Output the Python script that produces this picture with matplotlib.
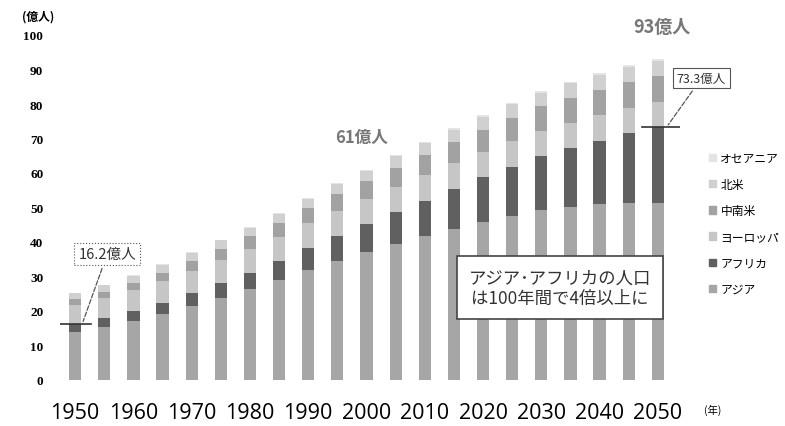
import numpy as np
import matplotlib.pyplot as plt
from matplotlib.patches import Patch

plt.rcParams['font.family'] = ['Noto Sans CJK JP', 'DejaVu Sans']

years = np.arange(1950, 2051, 5)
# population in 億人 (UN estimates)
asia = [14.0, 15.4, 17.1, 19.1, 21.4, 23.9, 26.3, 28.9, 31.9, 34.6, 37.0,
        39.4, 41.7, 43.9, 45.9, 47.6, 49.2, 50.2, 50.9, 51.3, 51.4]
africa = [2.2, 2.5, 2.9, 3.2, 3.7, 4.2, 4.8, 5.5, 6.3, 7.2, 8.1,
          9.2, 10.2, 11.5, 12.8, 14.2, 15.6, 17.0, 18.5, 20.2, 21.9]
europe = [5.5, 5.8, 6.0, 6.3, 6.6, 6.8, 6.9, 7.1, 7.2, 7.3, 7.3,
          7.3, 7.4, 7.4, 7.4, 7.4, 7.4, 7.3, 7.3, 7.2, 7.2]
latam = [1.7, 1.9, 2.2, 2.5, 2.9, 3.2, 3.6, 4.0, 4.4, 4.8, 5.2,
         5.6, 5.9, 6.2, 6.5, 6.8, 7.1, 7.3, 7.5, 7.6, 7.5]
n_america = [1.7, 1.9, 2.0, 2.2, 2.3, 2.4, 2.5, 2.7, 2.8, 3.0, 3.1,
             3.3, 3.4, 3.6, 3.7, 3.9, 4.0, 4.2, 4.3, 4.4, 4.5]
oceania = [0.13, 0.14, 0.16, 0.18, 0.20, 0.21, 0.23, 0.25, 0.27, 0.29, 0.31,
           0.34, 0.37, 0.39, 0.42, 0.44, 0.47, 0.49, 0.51, 0.53, 0.55]

series = [asia, africa, europe, latam, n_america, oceania]
names = ['アジア', 'アフリカ', 'ヨーロッパ', '中南米', '北米', 'オセアニア']
colors = ['#a6a6a6', '#606060', '#c6c6c6', '#a2a2a2', '#d0d0d0', '#e4e4e4']

tick_years = np.arange(1950, 2051, 10)

fig = plt.figure(figsize=(7.85, 4.27), dpi=100)
ax = fig.add_axes([60 / 785, 1 - 381 / 427, 620 / 785, 345 / 427])

bottom = np.zeros(len(years))
for vals, name, c in zip(series, names, colors):
    ax.bar(years, vals, width=2.1, bottom=bottom, color=c, label=name)
    bottom += np.array(vals)

ax.set_xlim(1947.4, 2053.8)
ax.set_ylim(0, 100)
ax.set_yticks(np.arange(0, 101, 10))
ax.set_xticks(tick_years)
ax.set_xticklabels([str(y) for y in tick_years], fontsize=15.5,
                   family=['Open Sans', 'DejaVu Sans'])
ax.tick_params(axis='y', length=0, pad=12, labelsize=9.5)
ax.tick_params(axis='x', length=0, pad=16)
for lbl in ax.get_yticklabels():
    lbl.set_family(['Liberation Serif', 'DejaVu Serif'])
    lbl.set_fontweight('bold')
for s in ax.spines.values():
    s.set_visible(False)

fig.text(38 / 785, 1 - 17 / 427, '(億人)', fontsize=8.5, fontweight='bold',
         ha='center', va='center')
fig.text(713 / 785, 1 - 410 / 427, '(年)', fontsize=7.5, ha='center', va='center')

# callouts
asia_africa = np.array(asia) + np.array(africa)
ax.plot([1947.4, 1952.8], [asia_africa[0]] * 2, color='#333333', lw=1.2)
ax.annotate('16.2億人', xy=(1951.2, asia_africa[0]), xytext=(1955.5, 36.5),
            fontsize=10.5, ha='center', va='center', color='#333333',
            bbox=dict(boxstyle='square,pad=0.3', fc='white', ec='#555555',
                      lw=0.8, ls=':'),
            arrowprops=dict(arrowstyle='-', color='#555555', lw=0.9, ls='--'))

ax.plot([2047.2, 2054.0], [asia_africa[-1]] * 2, color='#333333', lw=1.2)
ax.annotate('73.3億人', xy=(2051.5, asia_africa[-1]), xytext=(2057.5, 87.5),
            fontsize=9, ha='center', va='center', color='#333333',
            annotation_clip=False,
            bbox=dict(boxstyle='square,pad=0.3', fc='white', ec='#555555',
                      lw=0.8),
            arrowprops=dict(arrowstyle='-', color='#555555', lw=0.9, ls='--'))

ax.text(1999.2, 70.4, '61億人', fontsize=12, fontweight='bold', color='#777777',
        ha='center', va='center')
ax.text(2050.7, 102.6, '93億人', fontsize=13, fontweight='bold', color='#777777',
        ha='center', va='center', clip_on=False)

ax.text(2033.2, 26.7, 'アジア･アフリカの人口\nは100年間で4倍以上に', fontsize=12.5,
        ha='center', va='center', color='#333333', linespacing=1.2,
        bbox=dict(boxstyle='square,pad=0.7', fc='white', ec='#444444', lw=1.2))

handles = [Patch(color=c, label=n) for c, n in zip(colors, names)][::-1]
fig.legend(handles=handles, loc='upper left',
           bbox_to_anchor=(698 / 785, 1 - 142 / 427), frameon=False,
           fontsize=8.5, handlelength=0.6, handleheight=0.6,
           handletextpad=0.4, labelspacing=1.12)

fig.savefig('out.png', dpi=100)
